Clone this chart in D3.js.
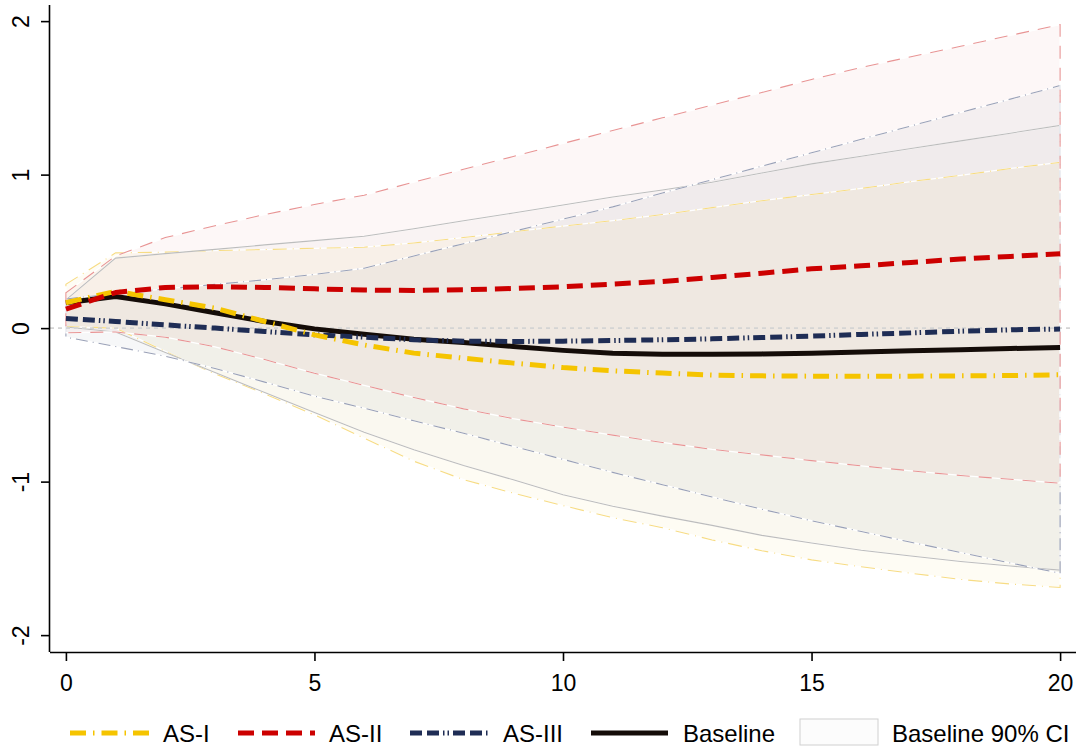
<!DOCTYPE html>
<html>
<head>
<meta charset="utf-8">
<script src="https://cdn.jsdelivr.net/npm/d3@7"></script>
<style>
  html, body { margin: 0; padding: 0; background: #fff; }
  svg { display: block; font-family: "Liberation Sans", Arial, Helvetica, sans-serif; }
</style>
</head>
<body>
<svg id="chart" width="1086" height="748"></svg>
<script>
// Impulse-response horizons
const steps = [0,1,2,3,4,5,6,7,8,9,10,11,12,13,14,15,16,17,18,19,20];

// Point responses
const asI      = [0.165,0.24,0.185,0.13,0.043,-0.044,-0.11,-0.163,-0.196,-0.228,-0.257,-0.278,-0.293,-0.306,-0.311,-0.313,-0.313,-0.313,-0.311,-0.309,-0.304];
const asII     = [0.124,0.232,0.265,0.27,0.265,0.256,0.248,0.245,0.25,0.258,0.269,0.287,0.304,0.33,0.358,0.386,0.406,0.428,0.45,0.467,0.484];
const asIII    = [0.063,0.043,0.021,0.0,-0.022,-0.044,-0.059,-0.076,-0.085,-0.087,-0.085,-0.081,-0.076,-0.07,-0.061,-0.052,-0.041,-0.031,-0.02,-0.011,-0.006];
const baseline = [0.165,0.206,0.158,0.10,0.043,-0.005,-0.04,-0.072,-0.094,-0.12,-0.145,-0.163,-0.17,-0.17,-0.168,-0.163,-0.156,-0.148,-0.141,-0.133,-0.126];

// 90% confidence bounds
const asILo    = [0.01,0.0,-0.152,-0.298,-0.428,-0.565,-0.717,-0.867,-0.987,-1.075,-1.156,-1.235,-1.30,-1.38,-1.45,-1.51,-1.555,-1.597,-1.637,-1.667,-1.69];
const asIHi    = [0.285,0.49,0.495,0.505,0.512,0.52,0.527,0.555,0.59,0.628,0.665,0.70,0.74,0.785,0.83,0.87,0.91,0.955,0.995,1.04,1.08];
const asIILo   = [-0.03,-0.025,-0.059,-0.122,-0.205,-0.294,-0.373,-0.452,-0.526,-0.59,-0.645,-0.697,-0.745,-0.79,-0.826,-0.863,-0.897,-0.93,-0.96,-0.985,-1.01];
const asIIHi   = [0.23,0.47,0.59,0.667,0.74,0.805,0.866,0.951,1.035,1.118,1.203,1.287,1.37,1.453,1.535,1.62,1.698,1.768,1.836,1.907,1.977];
const asIIILo  = [-0.059,-0.12,-0.183,-0.263,-0.352,-0.443,-0.522,-0.604,-0.685,-0.77,-0.855,-0.94,-1.02,-1.10,-1.18,-1.255,-1.325,-1.395,-1.462,-1.53,-1.597];
const asIIIHi  = [0.19,0.225,0.255,0.285,0.315,0.35,0.39,0.47,0.55,0.63,0.71,0.79,0.88,0.967,1.055,1.142,1.23,1.317,1.405,1.492,1.58];
const baseLo   = [0.007,-0.025,-0.159,-0.289,-0.42,-0.55,-0.678,-0.793,-0.895,-0.988,-1.085,-1.16,-1.225,-1.285,-1.35,-1.40,-1.447,-1.485,-1.52,-1.55,-1.576];
const baseHi   = [0.184,0.456,0.485,0.513,0.542,0.57,0.598,0.647,0.699,0.75,0.802,0.854,0.9,0.95,1.01,1.07,1.12,1.17,1.22,1.27,1.32];

const xTicks = [0,5,10,15,20];
const yTicks = [-2,-1,0,1,2];
const legendLabels = ["AS-I","AS-II","AS-III","Baseline","Baseline 90% CI"];

(function draw() {
  const svg = d3.select("#chart");
  const pL = 50, pR = 1076, pT = 5, pB = 652;
  const font = "Liberation Sans, Arial, Helvetica, sans-serif";

  const x = d3.scaleLinear().domain([-0.32, 20.32]).range([pL, pR]);
  const y = d3.scaleLinear().domain([-2.11, 2.105]).range([pB, pT]);

  // line patterns shared by plot lines and legend keys
  const dashAsI = "16,7,1.5,7";
  const dashAsII = "16,8";
  const dashAsIII = "12,5,12,4,1.5,3,1.5,4";

  const bands = [
    { lo: asILo,   hi: asIHi,   fill: "#f2c200", fo: 0.045, stroke: "#f7dc84", dash: "14,6,1,6" },
    { lo: baseLo,  hi: baseHi,  fill: "#8a8a8a", fo: 0.035, stroke: "#bdbdbd", dash: null },
    { lo: asIIILo, hi: asIIIHi, fill: "#1f2d55", fo: 0.04,  stroke: "#9aa1b7", dash: "12,5,1,5" },
    { lo: asIILo,  hi: asIIHi,  fill: "#cc0000", fo: 0.03,  stroke: "#e89494", dash: "13,9" }
  ];

  const area = d3.area().x((d, i) => x(steps[i])).y0(d => y(d[0])).y1(d => y(d[1]));
  const outline = (lo, hi) => {
    const up = steps.map((s, i) => [x(s), y(hi[i])]);
    const down = steps.map((s, i) => [x(s), y(lo[i])]).reverse();
    return d3.line()(up.concat(down)) + "Z";
  };

  const gBands = svg.append("g");
  bands.forEach(b => {
    const pairs = steps.map((s, i) => [b.lo[i], b.hi[i]]);
    gBands.append("path").attr("d", area(pairs)).attr("fill", b.fill).attr("fill-opacity", b.fo);
  });
  bands.forEach(b => {
    const d = outline(b.lo, b.hi);
    gBands.append("path").attr("d", d).attr("fill", "none").attr("stroke", "#fff").attr("stroke-width", 1.3);
    const p = gBands.append("path").attr("d", d).attr("fill", "none").attr("stroke", b.stroke).attr("stroke-width", 1.1);
    if (b.dash) p.attr("stroke-dasharray", b.dash);
  });

  // zero reference line
  svg.append("line")
    .attr("x1", pL).attr("x2", pR - 2).attr("y1", y(0)).attr("y2", y(0))
    .attr("stroke", "#d4d4d4").attr("stroke-width", 1.6).attr("stroke-dasharray", "4,4");

  const line = d3.line().x((d, i) => x(steps[i])).y(d => y(d));
  const series = [
    { v: baseline, color: "#140c08", w: 5, dash: null },
    { v: asIII,    color: "#1f2d55", w: 5, dash: dashAsIII },
    { v: asI,      color: "#f5c400", w: 5, dash: dashAsI },
    { v: asII,     color: "#cc0000", w: 5, dash: dashAsII }
  ];
  series.forEach(s => {
    const p = svg.append("path").attr("d", line(s.v)).attr("fill", "none")
      .attr("stroke", s.color).attr("stroke-width", s.w).attr("stroke-linejoin", "round");
    if (s.dash) p.attr("stroke-dasharray", s.dash);
  });

  // axes
  const fmt = d => String(d);
  const xAxis = d3.axisBottom(x).tickValues(xTicks).tickSize(9).tickPadding(14).tickFormat(fmt);
  const gx = svg.append("g").attr("transform", `translate(0,${pB})`).call(xAxis);
  gx.select(".domain").attr("d", `M${pL},0.5H${pR}`).attr("stroke", "#000").attr("stroke-width", 1.6);
  gx.selectAll(".tick line").attr("stroke", "#000").attr("stroke-width", 1.6);
  gx.selectAll(".tick text").attr("font-size", 23).attr("fill", "#000").attr("font-family", font);

  const yAxis = d3.axisLeft(y).tickValues(yTicks).tickSize(9).tickFormat(fmt);
  const gy = svg.append("g").attr("transform", `translate(${pL},0)`).call(yAxis);
  gy.select(".domain").attr("d", `M-0.5,${pT}V${pB}`).attr("stroke", "#000").attr("stroke-width", 1.6);
  gy.selectAll(".tick line").attr("stroke", "#000").attr("stroke-width", 1.6);
  gy.selectAll(".tick text")
    .attr("font-size", 23).attr("fill", "#000").attr("font-family", font)
    .attr("text-anchor", "middle").attr("x", 0).attr("dy", "0")
    .attr("transform", "translate(-21,0) rotate(-90)");

  // legend
  const ly = 733;
  const gl = svg.append("g").attr("font-size", 24).attr("fill", "#000").attr("font-family", font);
  const legendItems = [
    { kind: "line", color: "#f5c400", dash: dashAsI,   sx: 70,  sw: 79, tx: 163 },
    { kind: "line", color: "#cc0000", dash: dashAsII,  sx: 238, sw: 77, tx: 329 },
    { kind: "line", color: "#1f2d55", dash: dashAsIII, sx: 410, sw: 78, tx: 503 },
    { kind: "line", color: "#140c08", dash: null,      sx: 591, sw: 77, tx: 683 },
    { kind: "box", sx: 800, sw: 78, tx: 892 }
  ];
  legendItems.forEach((it, i) => {
    if (it.kind === "line") {
      const l = gl.append("line").attr("x1", it.sx).attr("x2", it.sx + it.sw).attr("y1", ly).attr("y2", ly)
        .attr("stroke", it.color).attr("stroke-width", 5);
      if (it.dash) l.attr("stroke-dasharray", it.dash);
    } else {
      gl.append("rect").attr("x", it.sx).attr("y", 719).attr("width", it.sw).attr("height", 26)
        .attr("fill", "#fcfcfc").attr("stroke", "#d0d0d0").attr("stroke-width", 1);
    }
    gl.append("text").attr("x", it.tx).attr("y", ly + 8.5).text(legendLabels[i]);
  });
})();
</script>
</body>
</html>
